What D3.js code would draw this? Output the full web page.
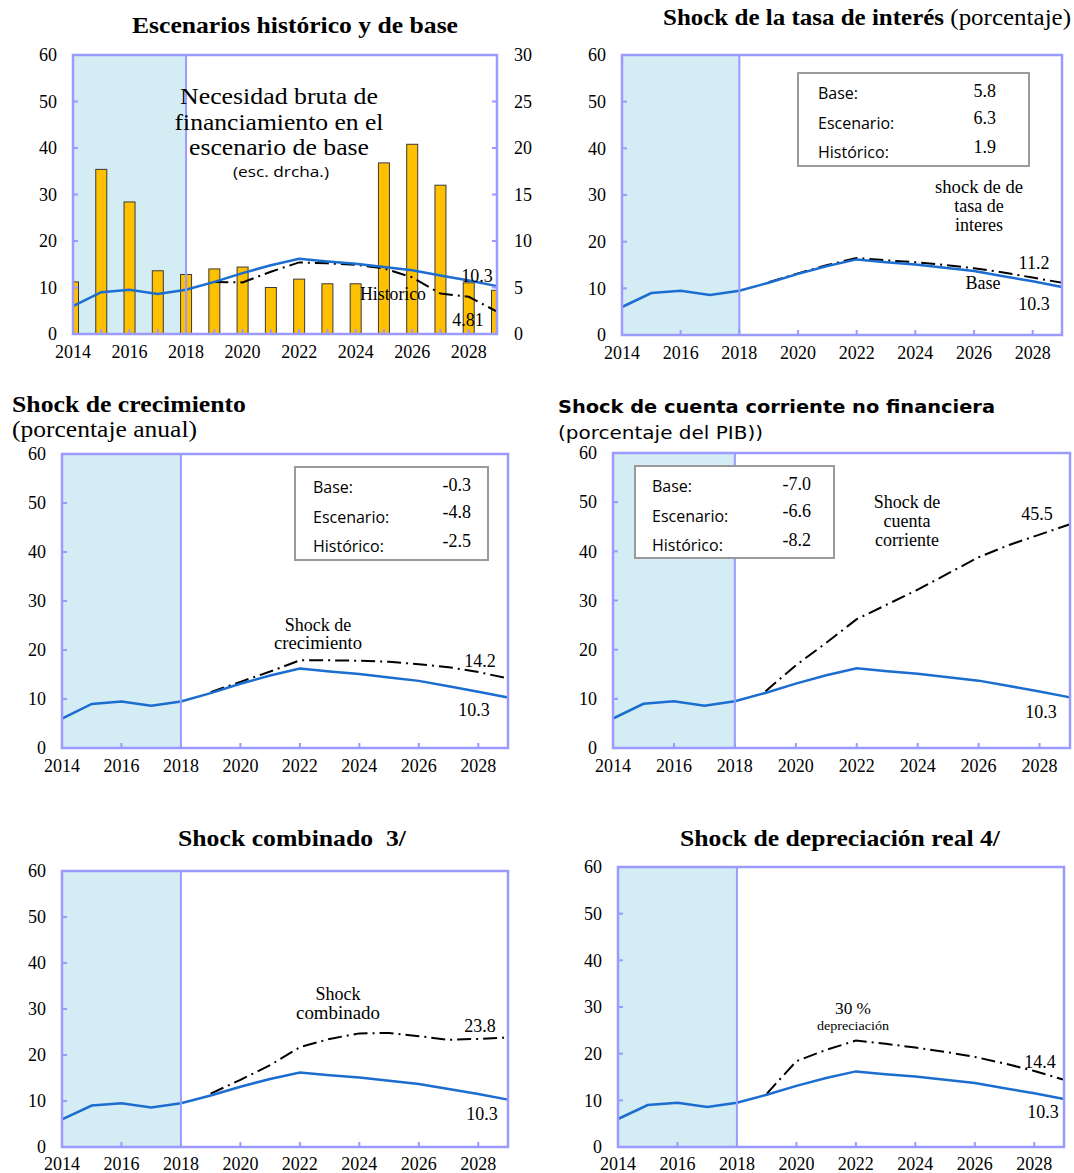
<!DOCTYPE html>
<html>
<head>
<meta charset="utf-8">
<script src="https://cdn.jsdelivr.net/npm/d3@7"></script>
<style>
  body { margin: 0; background: #fff; }
  svg { display: block; }
  text { white-space: pre; }
  .serif { font-family: "Liberation Serif", "Times New Roman", serif; }
  .sans { font-family: "Open Sans", "DejaVu Sans", sans-serif; }
  .vsans { font-family: "DejaVu Sans", Verdana, sans-serif; }
</style>
</head>
<body>
<div id="chart"></div>
<script>
// ---- data ----
var years = [2014, 2015, 2016, 2017, 2018, 2019, 2020, 2021, 2022, 2023, 2024, 2025, 2026, 2027, 2028, 2029];
var xTicksAll = [2014, 2015, 2016, 2017, 2018, 2019, 2020, 2021, 2022, 2023, 2024, 2025, 2026, 2027, 2028, 2029];
var xTicksEven = [2014, 2016, 2018, 2020, 2022, 2024, 2026, 2028];
var xTickLabels = [2014, 2016, 2018, 2020, 2022, 2024, 2026, 2028];
var yTicksLeft = [0, 10, 20, 30, 40, 50, 60];
var yTicksRight = [0, 5, 10, 15, 20, 25, 30];

// baseline debt path (% of GDP)
var baseline = [6.0, 9.0, 9.5, 8.6, 9.5, 11.2, 13.1, 14.8, 16.2, 15.6, 15.1, 14.4, 13.7, 12.6, 11.5, 10.3];
// gross financing need, baseline (right scale)
var grossFinNeed = [5.6, 17.7, 14.2, 6.8, 6.4, 7.0, 7.2, 5.0, 5.9, 5.4, 5.4, 18.4, 20.4, 16.0, 5.5, 4.7];

// scenario paths (projections start in 2019)
var historical    = [null, null, null, null, null, 11.2, 11.1, 13.4, 15.4, 15.2, 14.9, 14.1, 12.2, 8.7, 8.0, 4.81];
var interestShock = [null, null, null, null, null, 11.3, 13.2, 15.0, 16.5, 16.0, 15.6, 15.0, 14.3, 13.4, 12.3, 11.2];
var growthShock   = [null, null, null, null, null, 11.4, 13.5, 15.6, 17.9, 17.9, 17.8, 17.6, 17.1, 16.5, 15.5, 14.2];
var caShock       = [null, null, null, null, null, 11.5, 16.8, 21.4, 26.2, 29.2, 32.2, 35.5, 38.8, 41.3, 43.4, 45.5];
var combinedShock = [null, null, null, null, null, 11.6, 14.6, 17.8, 21.7, 23.5, 24.7, 24.8, 24.1, 23.3, 23.5, 23.8];
var deprecShock   = [null, null, null, null, null, 11.4, 18.4, 20.8, 22.8, 22.1, 21.3, 20.4, 19.3, 17.9, 16.3, 14.4];

// assumption boxes
var boxLabels = ["Base:", "Escenario:", "Histórico:"];
var interestBox = ["5.8", "6.3", "1.9"];
var growthBox = ["-0.3", "-4.8", "-2.5"];
var caBox = ["-7.0", "-6.6", "-8.2"];

var projStart = 2018;

// ---- styles ----
var frameColor = "#9a9aff",
    shadeColor = "#d4ecf4",
    blueColor = "#1b6dd0",
    barColor = "#ffc000";

var svg = d3.select("#chart").append("svg")
    .attr("width", 1074)
    .attr("height", 1173);

function addText(g, t) {
    var el = g.append("text")
        .attr("class", t.cls || "serif")
        .attr("x", t.x)
        .attr("y", t.y)
        .attr("text-anchor", t.anchor || "middle")
        .style("font-size", (t.size || 18) + "px")
        .style("font-weight", t.bold ? "bold" : "normal")
        .attr("fill", "#000");
    if (t.parts) {
        t.parts.forEach(function(p) {
            el.append("tspan").style("font-weight", p.bold ? "bold" : "normal").text(p.text);
        });
    } else {
        el.text(t.text);
    }
    // the reference text is drawn a little wider than the font's own metrics
    if (t.w) el.attr("textLength", t.w).attr("lengthAdjust", "spacingAndGlyphs");
    return el;
}

function drawPanel(p, idx) {
    var g = svg.append("g").attr("class", "panel");

    var x = d3.scaleLinear().domain([2014, 2029]).range([p.left, p.right]);
    var y = d3.scaleLinear().domain([0, 60]).range([p.bottom, p.top]);

    // shaded historical period
    g.append("rect")
        .attr("x", x(2014))
        .attr("y", y(60))
        .attr("width", x(projStart) - x(2014))
        .attr("height", y(0) - y(60))
        .attr("fill", shadeColor);

    var clipId = "clip" + idx;
    g.append("clipPath").attr("id", clipId)
      .append("rect")
        .attr("x", p.left).attr("y", p.top)
        .attr("width", p.right - p.left).attr("height", p.bottom - p.top);

    // bars (right scale) for the first panel
    if (p.bars) {
        var yR = d3.scaleLinear().domain([0, 30]).range([p.bottom, p.top]);
        g.append("g").attr("clip-path", "url(#" + clipId + ")")
          .selectAll("rect")
          .data(years.map(function(yr, i) { return { year: yr, v: p.bars[i] }; }))
          .enter().append("rect")
            .attr("x", function(d) { return x(d.year) - 5.5; })
            .attr("y", function(d) { return yR(d.v); })
            .attr("width", 11)
            .attr("height", function(d) { return yR(0) - yR(d.v); })
            .attr("fill", barColor)
            .attr("stroke", "#3a3a3a")
            .attr("stroke-width", 1);

        // right axis labels
        yTicksRight.forEach(function(t) {
            addText(g, { x: p.right + 17, y: yR(t), text: t, anchor: "start" })
                .attr("dy", "0.35em");
        });
    }

    var line = d3.line()
        .defined(function(d) { return d.v != null; })
        .x(function(d) { return x(d.year); })
        .y(function(d) { return y(d.v); });

    // scenario (dash-dot)
    g.append("path")
        .datum(years.map(function(yr, i) { return { year: yr, v: p.scen[i] }; }))
        .attr("d", line)
        .attr("fill", "none")
        .attr("stroke", "#000")
        .attr("stroke-width", 2)
        .attr("stroke-dasharray", "14,5,2,5");

    // baseline
    g.append("path")
        .datum(years.map(function(yr, i) { return { year: yr, v: baseline[i] }; }))
        .attr("d", line)
        .attr("fill", "none")
        .attr("stroke", blueColor)
        .attr("stroke-width", 2.5);

    // frame
    g.append("rect")
        .attr("x", p.left).attr("y", p.top)
        .attr("width", p.right - p.left).attr("height", p.bottom - p.top)
        .attr("fill", "none")
        .attr("stroke", frameColor)
        .attr("stroke-width", 2.5);
    g.append("line")
        .attr("x1", x(projStart)).attr("x2", x(projStart))
        .attr("y1", p.top).attr("y2", p.bottom)
        .attr("stroke", frameColor)
        .attr("stroke-width", 2);

    // inward ticks
    yTicksLeft.forEach(function(t) {
        g.append("line")
            .attr("x1", p.left).attr("x2", p.left + 5)
            .attr("y1", y(t)).attr("y2", y(t))
            .attr("stroke", frameColor).attr("stroke-width", 2);
        if (p.bars) {
            g.append("line")
                .attr("x1", p.right - 5).attr("x2", p.right)
                .attr("y1", y(t)).attr("y2", y(t))
                .attr("stroke", frameColor).attr("stroke-width", 2);
        }
        addText(g, { x: p.left - 16, y: y(t), text: t, anchor: "end" })
            .attr("dy", "0.35em");
    });
    (p.bars ? xTicksAll : xTicksEven).forEach(function(t) {
        g.append("line")
            .attr("x1", x(t)).attr("x2", x(t))
            .attr("y1", p.bottom).attr("y2", p.bottom - 5)
            .attr("stroke", frameColor).attr("stroke-width", 2);
    });
    xTickLabels.forEach(function(t) {
        addText(g, { x: x(t), y: Math.min(p.bottom + 24, 1170), text: t });
    });

    // assumption box
    if (p.box) {
        var b = p.boxPos;
        g.append("rect")
            .attr("x", b.x).attr("y", b.y)
            .attr("width", b.w).attr("height", b.h)
            .attr("fill", "#fff")
            .attr("stroke", "#9a9a9a")
            .attr("stroke-width", 2);
        var labelDy = [26, 56, 85], valueDy = [24, 51, 80];
        boxLabels.forEach(function(l, i) {
            addText(g, { cls: "sans", x: b.x + b.lx, y: b.y + labelDy[i], text: l, anchor: "start", size: 16 });
            addText(g, { x: b.x + b.w - b.vr, y: b.y + valueDy[i], text: p.box[i], anchor: "end" });
        });
    }

    (p.titles || []).forEach(function(t) { addText(g, t); });
    (p.notes || []).forEach(function(t) { addText(g, t); });
}

var panels = [
    {
        left: 73, right: 497, top: 55, bottom: 334,
        scen: historical, bars: grossFinNeed,
        titles: [{ x: 295, y: 33, text: "Escenarios histórico y de base", bold: true, size: 23, w: 326 }],
        notes: [
            { x: 279, y: 104, text: "Necesidad bruta de", size: 23, w: 198 },
            { x: 279, y: 130, text: "financiamiento en el", size: 23, w: 209 },
            { x: 279, y: 155, text: "escenario de base", size: 23, w: 180 },
            { cls: "sans", x: 281, y: 177, text: "(esc. drcha.)", size: 15, w: 96 },
            { x: 477, y: 282, text: "10.3" },
            { x: 393, y: 300, text: "Historico", w: 66 },
            { x: 468, y: 326, text: "4.81" }
        ]
    },
    {
        left: 622, right: 1062, top: 55, bottom: 335,
        scen: interestShock, box: interestBox,
        boxPos: { x: 798, y: 73, w: 231, h: 93, lx: 20, vr: 33 },
        titles: [{ x: 663, y: 25, anchor: "start", size: 23, w: 408,
                   parts: [{ text: "Shock de la tasa de interés", bold: true }, { text: " (porcentaje)" }] }],
        notes: [
            { x: 979, y: 193, text: "shock de de", w: 88 },
            { x: 979, y: 212, text: "tasa de" },
            { x: 979, y: 231, text: "interes" },
            { x: 1034, y: 269, text: "11.2" },
            { x: 983, y: 289, text: "Base" },
            { x: 1034, y: 310, text: "10.3" }
        ]
    },
    {
        left: 62, right: 508, top: 454, bottom: 748,
        scen: growthShock, box: growthBox,
        boxPos: { x: 295, y: 467, w: 193, h: 93, lx: 18, vr: 17 },
        titles: [
            { x: 12, y: 412, anchor: "start", text: "Shock de crecimiento", bold: true, size: 23, w: 234 },
            { x: 12, y: 437, anchor: "start", text: "(porcentaje anual)", size: 23, w: 185 }
        ],
        notes: [
            { x: 318, y: 631, text: "Shock de" },
            { x: 318, y: 649, text: "crecimiento", w: 88 },
            { x: 480, y: 667, text: "14.2" },
            { x: 474, y: 716, text: "10.3" }
        ]
    },
    {
        left: 613, right: 1070, top: 453, bottom: 748,
        scen: caShock, box: caBox,
        boxPos: { x: 635, y: 466, w: 199, h: 92, lx: 17, vr: 23 },
        titles: [
            { cls: "vsans", x: 558, y: 413, anchor: "start", text: "Shock de cuenta corriente no financiera", bold: true, size: 18, w: 437 },
            { cls: "vsans", x: 558, y: 439, anchor: "start", text: "(porcentaje del PIB))", size: 18, w: 205 }
        ],
        notes: [
            { x: 907, y: 508, text: "Shock de" },
            { x: 907, y: 527, text: "cuenta" },
            { x: 907, y: 546, text: "corriente" },
            { x: 1037, y: 520, text: "45.5" },
            { x: 1041, y: 718, text: "10.3" }
        ]
    },
    {
        left: 62, right: 508, top: 871, bottom: 1147,
        scen: combinedShock,
        titles: [{ x: 292, y: 846, text: "Shock combinado  3/", bold: true, size: 23, w: 228 }],
        notes: [
            { x: 338, y: 1000, text: "Shock" },
            { x: 338, y: 1019, text: "combinado", w: 84 },
            { x: 480, y: 1032, text: "23.8" },
            { x: 482, y: 1120, text: "10.3" }
        ]
    },
    {
        left: 618, right: 1064, top: 867, bottom: 1147,
        scen: deprecShock,
        titles: [{ x: 840, y: 846, text: "Shock de depreciación real 4/", bold: true, size: 23, w: 320 }],
        notes: [
            { x: 853, y: 1014, text: "30 %", size: 16, w: 36 },
            { x: 853, y: 1030, text: "depreciación", size: 12, w: 72 },
            { x: 1040, y: 1068, text: "14.4" },
            { x: 1043, y: 1118, text: "10.3" }
        ]
    }
];

panels.forEach(drawPanel);
</script>
</body>
</html>
